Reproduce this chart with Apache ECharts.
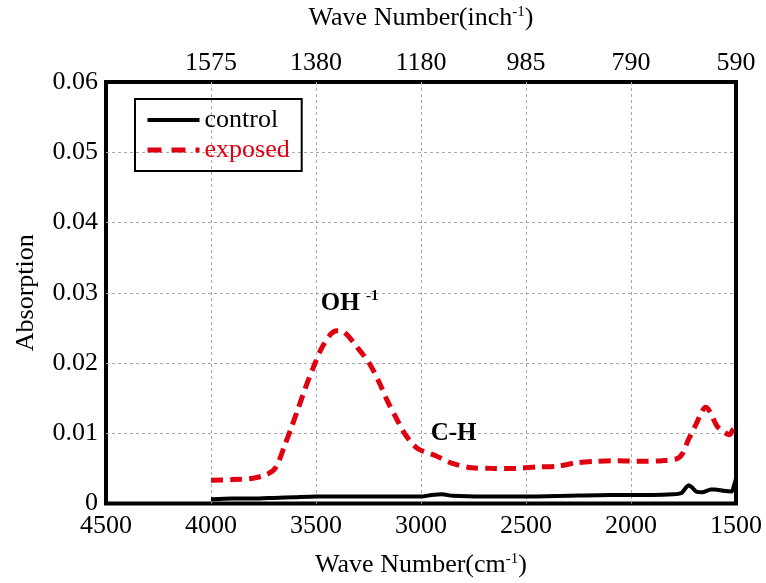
<!DOCTYPE html>
<html>
<head>
<meta charset="utf-8">
<script src="https://cdn.jsdelivr.net/npm/echarts@6/dist/echarts.min.js"></script>
<style>
  html, body { margin: 0; padding: 0; background: #fff; }
  #chart { width: 766px; height: 583px; }
</style>
</head>
<body>
<div id="chart"></div>
<script>
// wave number (cm-1) / absorption
const exposedX = [4000, 3900, 3800, 3730, 3690, 3650, 3615, 3585, 3550, 3515, 3475, 3430, 3400, 3365, 3300, 3245, 3200, 3160, 3115, 3070, 3015, 2930, 2850, 2760, 2660, 2550, 2450, 2350, 2260, 2160, 2060, 1970, 1850, 1780, 1755, 1728, 1690, 1660, 1645, 1625, 1590, 1560, 1530, 1515, 1500]
const exposedY = [0.0033, 0.0034, 0.0036, 0.0042, 0.0052, 0.0082, 0.0110, 0.0135, 0.0165, 0.0192, 0.0220, 0.0241, 0.0246, 0.0244, 0.0221, 0.0199, 0.0173, 0.0146, 0.0120, 0.0096, 0.0078, 0.0068, 0.0057, 0.0051, 0.0050, 0.0050, 0.0052, 0.0053, 0.0058, 0.0060, 0.0061, 0.0060, 0.0061, 0.0064, 0.0071, 0.0090, 0.0113, 0.0132, 0.0137, 0.0131, 0.0110, 0.0102, 0.0098, 0.0105, 0.0108]

const controlX = [4000, 3900, 3800, 3700, 3600, 3500, 3400, 3200, 3000, 2950, 2900, 2850, 2700, 2500, 2300, 2100, 1900, 1800, 1760, 1740, 1725, 1710, 1690, 1660, 1620, 1600, 1560, 1520, 1510, 1500]
const controlY = [0.0006, 0.0007, 0.0007, 0.0008, 0.0009, 0.0010, 0.0010, 0.0010, 0.0010, 0.0012, 0.0013, 0.0011, 0.0010, 0.0010, 0.0011, 0.0012, 0.0012, 0.0013, 0.0015, 0.0022, 0.0026, 0.0023, 0.0017, 0.0016, 0.0020, 0.0020, 0.0018, 0.0017, 0.0025, 0.0035]

// top axis: cm-1 tick -> inch-1 label
const topTicks = [4000, 3500, 3000, 2500, 2000, 1500]
const topLabels = ['1575', '1380', '1180', '985', '790', '590']

const FONT = '"Liberation Serif", "DejaVu Serif", serif'
const RED = '#e00010'

const chart = echarts.init(document.getElementById('chart'))

const titleRich = {
  a: { fontFamily: FONT, fontSize: 26, color: '#000' },
  s: { fontFamily: FONT, fontSize: 15, color: '#000', verticalAlign: 'top', padding: [0, 0, 12, 0] }
}
const gridLine = {
  show: true,
  showMinLine: false,
  showMaxLine: false,
  lineStyle: { color: '#aaa', type: [3, 3], width: 1 }
}

chart.setOption({
  animation: false,
  textStyle: { fontFamily: FONT },
  grid: {
    left: 106,
    right: 30,
    top: 82,
    bottom: 78,
    show: true,
    borderWidth: 4,
    borderColor: '#000',
    backgroundColor: '#fff'
  },
  legend: {
    left: 135,
    top: 99,
    orient: 'vertical',
    padding: [8, 12, 8, 10],
    itemGap: 4,
    itemWidth: 52,
    itemHeight: 14,
    borderColor: '#000',
    borderWidth: 2,
    itemStyle: { opacity: 0 },
    textStyle: { fontFamily: FONT, fontSize: 26, lineHeight: 26 },
    data: [
      { name: 'control', textStyle: { color: '#000' }, lineStyle: { width: 4, color: '#000', type: 'solid' } },
      { name: 'exposed', textStyle: { color: RED }, lineStyle: { width: 5, color: RED, type: [14, 10] } }
    ]
  },
  xAxis: [{
    type: 'value',
    position: 'bottom',
    min: 1500,
    max: 4500,
    interval: 500,
    inverse: true,
    axisLine: { show: false },
    axisTick: { show: false },
    axisLabel: { fontFamily: FONT, fontSize: 26, color: '#000', margin: 10, formatter: v => String(v) },
    splitLine: gridLine,
    name: '{a|Wave Number(cm}{s|-1}{a|)}',
    nameLocation: 'middle',
    nameGap: 48,
    nameTextStyle: { rich: titleRich }
  }, {
    type: 'value',
    position: 'top',
    min: 1500,
    max: 4500,
    interval: 500,
    inverse: true,
    axisLine: { show: false },
    axisTick: { show: false },
    splitLine: { show: false },
    axisLabel: {
      fontFamily: FONT, fontSize: 26, color: '#000', margin: 6,
      formatter: function (v) {
        const i = topTicks.indexOf(v)
        return i >= 0 ? topLabels[i] : ''
      }
    },
    name: '{a|Wave Number(inch}{s|-1}{a|)}',
    nameLocation: 'middle',
    nameGap: 50,
    nameTextStyle: { rich: titleRich }
  }],
  yAxis: {
    type: 'value',
    min: 0,
    max: 0.06,
    interval: 0.01,
    axisLine: { show: false },
    axisTick: { show: false },
    axisLabel: {
      fontFamily: FONT, fontSize: 26, color: '#000', margin: 8,
      formatter: function (v) { return v === 0 ? '0' : v.toFixed(2) }
    },
    splitLine: gridLine,
    name: 'Absorption',
    nameLocation: 'middle',
    nameGap: 67,
    nameTextStyle: { fontFamily: FONT, fontSize: 26, color: '#000' }
  },
  series: [{
    name: 'control',
    type: 'line',
    showSymbol: false,
    symbol: 'none',
    smooth: 0.2,
    lineStyle: { color: '#000', width: 4 },
    itemStyle: { color: '#000' },
    data: controlX.map((x, i) => [x, controlY[i]]),
    z: 3
  }, {
    name: 'exposed',
    type: 'line',
    showSymbol: false,
    symbol: 'none',
    smooth: 0.3,
    lineStyle: { color: RED, width: 5, type: [12, 7] },
    itemStyle: { color: RED },
    data: exposedX.map((x, i) => [x, exposedY[i]]),
    markPoint: {
      symbol: 'circle',
      symbolSize: 0,
      silent: true,
      label: {
        show: true,
        position: 'inside',
        formatter: function (p) { return p.name },
        rich: {
          b: { fontFamily: FONT, fontSize: 25, fontWeight: 'bold', color: '#000' },
          s: { fontFamily: FONT, fontSize: 15, fontWeight: 'bold', color: '#000', verticalAlign: 'top', padding: [0, 0, 14, 0] }
        }
      },
      data: [
        { name: '{b|OH }{s|-1}', coord: [3340, 0.0285] },
        { name: '{b|C-H}', coord: [2845, 0.0100] }
      ]
    },
    z: 4
  }]
})
</script>
</body>
</html>
